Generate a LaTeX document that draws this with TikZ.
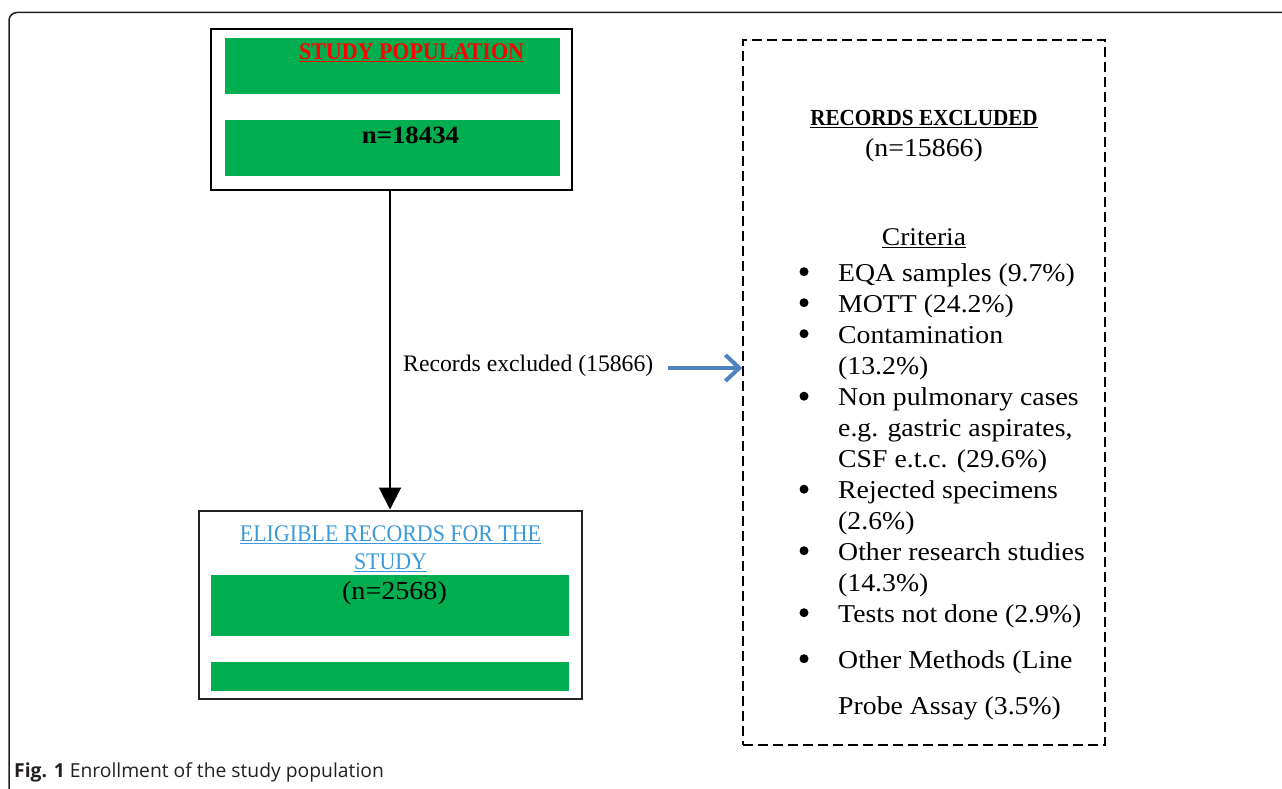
\documentclass[tikz,border=0pt]{standalone}
\usepackage{fontspec}
\setmainfont{Liberation Serif}
\newfontfamily\cam[FakeStretch=1.08]{Liberation Serif}
\newfontfamily\camc[FakeStretch=0.92]{Liberation Serif}
\newfontfamily\capfont{Open Sans}
\usetikzlibrary{arrows.meta}
\definecolor{boxgreen}{HTML}{00AE4F}
\definecolor{linkblue}{HTML}{3A9AD9}
\definecolor{arrowblue}{HTML}{4F81BD}
\definecolor{framegray}{HTML}{222222}
\definecolor{captext}{HTML}{231F20}
\tikzset{
  frame/.style={draw=framegray, line width=1.5pt, rounded corners=8pt},
  box/.style={draw=black, line width=2pt, inner sep=0pt, rectangle},
  greenbar/.style={fill=boxgreen, inner sep=0pt, rectangle},
  dashbox/.style={draw=black, line width=1.4pt, dash pattern=on 10pt off 5pt, inner sep=0pt, rectangle},
  txt/.style={inner sep=0pt, anchor=base},
  ltxt/.style={inner sep=0pt, anchor=base west},
  body/.style={font=\cam\fontsize{25.7}{31}\selectfont},
  bulletdot/.style={circle, fill=black, inner sep=0pt, minimum size=9pt},
  mainarrow/.style={draw=black, line width=2pt, -{Triangle[length=22pt,width=22pt]}},
  bluearrow/.style={draw=arrowblue, line width=4pt, -{Straight Barb[length=14pt,width=26pt,line width=4pt]}}
}
\begin{document}
\begin{tikzpicture}[x=1pt,y=-1pt]
\useasboundingbox (0,0) rectangle (1282,789);
% outer frame
\draw[frame] (9,789) -- (9,12.5) -- (1282,12.5);

% top box
\node[box, minimum width=361pt, minimum height=161pt] (top) at (391.5,109.5) {};
\node[greenbar, minimum width=335pt, minimum height=56pt] (topbar1) at (392.5,66) {};
\node[greenbar, minimum width=335pt, minimum height=56pt] (topbar2) at (392.5,148) {};
\node[txt, text=red, font=\camc\bfseries\fontsize{23.9}{28}\selectfont] (studypop) at (411.5,60) {\underline{STUDY POPULATION}};
\node[txt, font=\cam\bfseries\fontsize{24.8}{30}\selectfont] (ntop) at (410.5,143) {n=18434};

% bottom box
\node[box, draw=framegray, minimum width=383pt, minimum height=188pt] (bot) at (390,604.5) {};
\node[greenbar, minimum width=358pt, minimum height=60.5pt] (botbar1) at (390,605.5) {};
\node[greenbar, minimum width=358pt, minimum height=29pt] (botbar2) at (390,676.5) {};
\node[txt, text=linkblue, font=\camc\fontsize{23.8}{28}\selectfont] (elig1) at (390.5,541.5) {\underline{ELIGIBLE RECORDS FOR THE}};
\node[txt, text=linkblue, font=\camc\fontsize{23.8}{28}\selectfont] (elig2) at (390.5,569.5) {\underline{STUDY}};
\node[txt, font=\cam\fontsize{26}{31}\selectfont] (nbot) at (394.5,599) {(n=2568)};

% main arrow
\draw[mainarrow] (bot.north |- top.south) -- (bot.north);

% excluded box
\node[dashbox, minimum width=362pt, minimum height=705pt] (excl) at (924,392.5) {};
\node[txt, font=\camc\bfseries\fontsize{23}{28}\selectfont] (exhead) at (924,126) {\underline{RECORDS EXCLUDED}};
\node[txt, font=\cam\fontsize{25.8}{31}\selectfont] (exn) at (924,156.5) {(n=15866)};
\node[txt, font=\cam\fontsize{25.5}{31}\selectfont] (crit) at (924,245.5) {\underline{Criteria}};

\node[bulletdot] (b1) at (804,271.7) {};
\node[ltxt, body] (l1) at (838,281) {EQA samples (9.7\%)};
\node[bulletdot] (b2) at (804,302.7) {};
\node[ltxt, body] (l2) at (838,312) {MOTT (24.2\%)};
\node[bulletdot] (b3) at (804,333.7) {};
\node[ltxt, body] (l3) at (838,343) {Contamination};
\node[ltxt, body] (l3b) at (838,374) {(13.2\%)};
\node[bulletdot] (b4) at (804,396.2) {};
\node[ltxt, body] (l4) at (838,405.5) {Non pulmonary cases};
\node[ltxt, body] (l4b) at (838,436.5) {e.g. gastric aspirates,};
\node[ltxt, body] (l4c) at (838,467.5) {CSF e.t.c. (29.6\%)};
\node[bulletdot] (b5) at (804,489.2) {};
\node[ltxt, body] (l5) at (838,498.5) {Rejected specimens};
\node[ltxt, body] (l5b) at (838,529.5) {(2.6\%)};
\node[bulletdot] (b6) at (804,550.7) {};
\node[ltxt, body] (l6) at (838,560) {Other research studies};
\node[ltxt, body] (l6b) at (838,591) {(14.3\%)};
\node[bulletdot] (b7) at (804,612.7) {};
\node[ltxt, body] (l7) at (838,622) {Tests not done (2.9\%)};
\node[bulletdot] (b8) at (804,658.7) {};
\node[ltxt, body] (l8) at (838,668) {Other Methods (Line};
\node[ltxt, body] (l8b) at (838,714) {Probe Assay (3.5\%)};

% side label and blue arrow
\node[ltxt, font=\fontsize{23.7}{28}\selectfont] (exlbl) at (403,371) {Records excluded (15866)};
\coordinate (arrstart) at (668,368);
\draw[bluearrow] (arrstart) -- (excl.west |- arrstart);

% caption
\node[ltxt, text=captext, font=\capfont\fontsize{19.3}{23}\selectfont] (caption) at (14,777) {\textbf{Fig. 1} Enrollment of the study population};
\end{tikzpicture}
\end{document}
